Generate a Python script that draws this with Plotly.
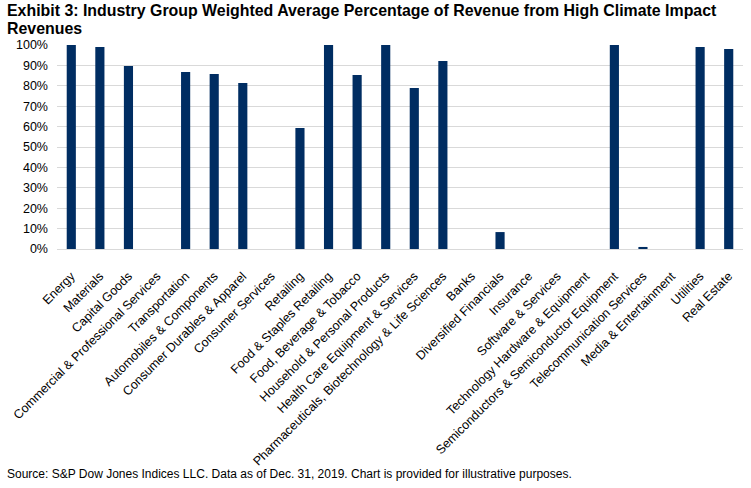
import plotly.graph_objects as go

# Industry groups and the share of revenue from high climate impact activities
groups = [
    "Energy", "Materials", "Capital Goods", "Commercial & Professional Services",
    "Transportation", "Automobiles & Components", "Consumer Durables & Apparel",
    "Consumer Services", "Retailing", "Food & Staples Retailing",
    "Food, Beverage & Tobacco", "Household & Personal Products",
    "Health Care Equipment & Services", "Pharmaceuticals, Biotechnology & Life Sciences",
    "Banks", "Diversified Financials", "Insurance", "Software & Services",
    "Technology Hardware & Equipment", "Semiconductors & Semiconductor Equipment",
    "Telecommunication Services", "Media & Entertainment", "Utilities", "Real Estate",
]
share = [
    1.00, 0.99, 0.897, 0.0, 0.868, 0.858, 0.814, 0.0, 0.593, 1.00,
    0.853, 1.00, 0.789, 0.922, 0.0, 0.083, 0.0, 0.0, 0.0, 1.00,
    0.010, 0.0, 0.99, 0.98,
]

NAVY = "#002D62"
FONT = "Liberation Sans, Arial, sans-serif"

fig = go.Figure()
fig.add_trace(go.Bar(x=groups, y=share, marker_color=NAVY, marker_line_width=0))

fig.update_layout(
    width=751,
    height=488,
    margin=dict(l=57, r=8, t=45, b=239),
    plot_bgcolor="white",
    paper_bgcolor="white",
    bargap=0.68,
    showlegend=False,
    font=dict(family=FONT, size=12, color="black"),
)
fig.update_xaxes(
    tickangle=-45,
    tickfont=dict(size=12.5),
    showgrid=False,
    showline=True,
    linecolor="#d9d9d9",
    ticks="",
    ticklabelstandoff=14,
    automargin=False,
)
fig.update_yaxes(
    range=[0, 1.0],
    tickformat=".0%",
    dtick=0.1,
    tickfont=dict(size=12.5),
    gridcolor="#d9d9d9",
    gridwidth=1,
    zeroline=False,
    ticks="",
    ticklabelstandoff=8,
    automargin=False,
)

title_lines = [
    "Exhibit 3: Industry Group Weighted Average Percentage of Revenue from High Climate Impact",
    "Revenues",
]
for i, line in enumerate(title_lines):
    fig.add_annotation(
        text=line,
        xref="paper", yref="paper", x=-0.076, y=1.167 - i * 0.088,
        xanchor="left", yanchor="middle", align="left", showarrow=False,
        font=dict(family=FONT, size=15.9, color="black", weight="bold"),
    )
fig.add_annotation(
    text="Source: S&P Dow Jones Indices LLC. Data as of Dec. 31, 2019. Chart is provided for illustrative purposes.",
    xref="paper", yref="paper", x=-0.076, y=-1.105,
    xanchor="left", yanchor="middle", align="left", showarrow=False,
    font=dict(family=FONT, size=12, color="black"),
)

# page body has a default 8px margin; drop it so the figure sits at the corner
fig.write_html(
    "out.html",
    config={"displayModeBar": False},
    post_script="document.body.style.margin = '0';",
)
